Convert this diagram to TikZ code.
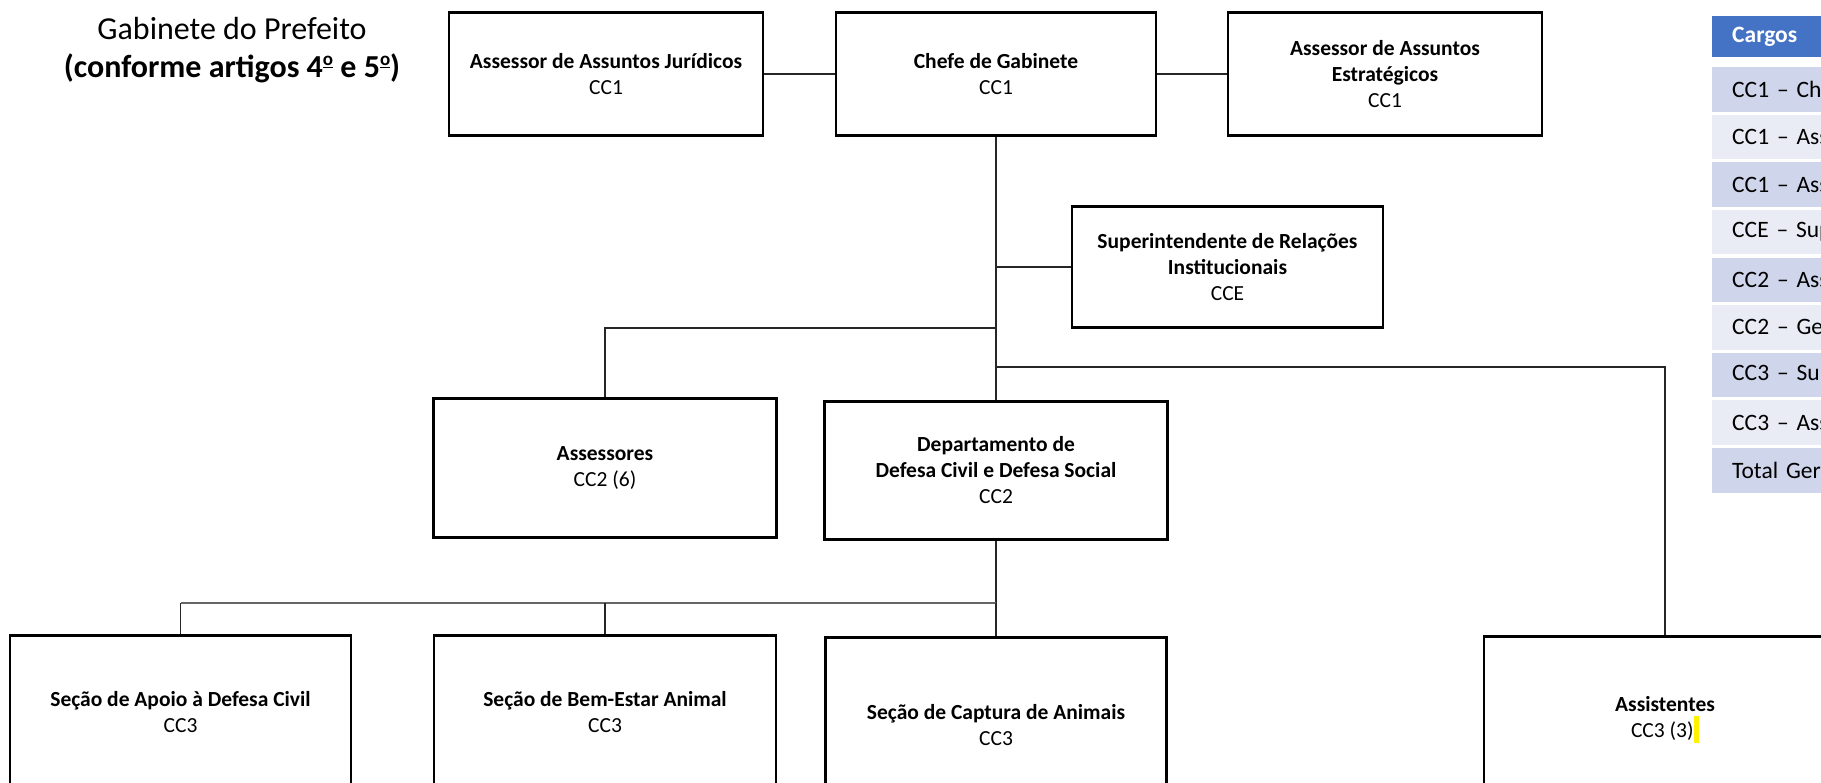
\documentclass[tikz,border=0pt]{standalone}
\usepackage{fontspec}
\setmainfont{Carlito}
\newfontfamily\tabfam[WordSpace=0.6]{Carlito}
\usetikzlibrary{calc}
\definecolor{hdrblue}{HTML}{4472C4}
\definecolor{rowdark}{HTML}{CFD5EA}
\definecolor{rowlight}{HTML}{E9EBF5}
\newcommand{\boxfont}{\fontsize{21.5}{26}\selectfont}
\newcommand{\tabfont}{\tabfam\fontsize{23.5}{28}\selectfont}
\newcommand{\titlefont}{\fontsize{32}{38}\selectfont}
\newcommand{\myord}{\raisebox{0.36em}{\fontsize{19}{19}\selectfont\underline{o}}}
\begin{document}
\begin{tikzpicture}[x=1pt,y=-1pt,
  box/.style={draw=black, line width=2.8pt, align=center, inner sep=0pt, font=\boxfont, anchor=north},
  conn/.style={line width=1.3pt, black!85},
  hbar/.style={line width=2.2pt, black!60},
  cell/.style={anchor=north west, minimum width=260pt, minimum height=44.5pt, text width=220pt, align=left, inner xsep=18pt, inner ysep=0pt, font=\tabfont},
  hdr/.style={cell, fill=hdrblue, text=white, minimum height=41pt}]
\clip (0,0) rectangle (1821,783);
\fill[white] (0,0) rectangle (1821,783);
% title
\node[font=\titlefont, align=center] (title) at (232,50) {Gabinete do Prefeito\\\textbf{(conforme artigos 4\myord{} e 5\myord)}};
% top row
\node[box, minimum width=314pt, minimum height=123pt] (jur) at (606,11) {\textbf{Assessor de Assuntos Jurídicos}\\CC1};
\node[box, minimum width=320pt, minimum height=123pt] (chefe) at (996,11) {\textbf{Chefe de Gabinete}\\CC1};
\node[box, minimum width=314pt, minimum height=123pt] (estr) at (1385,11) {\textbf{Assessor de Assuntos}\\\textbf{Estratégicos}\\CC1};
\node[box, minimum width=311pt, minimum height=121pt] (sup) at (1227.5,205) {\textbf{Superintendente de Relações}\\\textbf{Institucionais}\\CCE};
% middle row
\node[box, minimum width=343pt, minimum height=139pt] (assr) at (605,397) {\textbf{Assessores}\\CC2 (6)};
\node[box, minimum width=343pt, minimum height=138pt] (dept) at (996,400) {\textbf{Departamento de}\\\textbf{Defesa Civil e Defesa Social}\\CC2};
% bottom row
\node[box, minimum width=341pt, minimum height=154pt] (apoio) at (180.5,634) {\textbf{Seção de Apoio à Defesa Civil}\\CC3};
\node[box, minimum width=342pt, minimum height=154pt] (bem) at (605,634) {\textbf{Seção de Bem-Estar Animal}\\CC3};
\node[box, minimum width=341pt, minimum height=176pt] (capt) at (996,636) {\textbf{Seção de Captura de Animais}\\CC3};
\node[box, minimum width=362pt, minimum height=167pt] (asst) at (1665,635) {\textbf{Assistentes}\\CC3 (3){\color{yellow}\rule[-0.23em]{0.25em}{1.25em}}};
% connectors
\draw[conn] (jur.east) -- (chefe.west);
\draw[conn] (chefe.east) -- (estr.west);
\draw[conn] (chefe.south) -- (dept.north);
\draw[conn] (sup.west) -- (sup.west -| chefe.south);
\coordinate (jA) at (chefe.south |- 0,328);
\coordinate (jB) at (chefe.south |- 0,367);
\draw[conn] (jA) -| (assr.north);
\draw[conn] (jB) -| (asst.north);
\coordinate (jC) at (dept.south |- 0,603);
\draw[conn] (dept.south) -- (jC);
\draw[hbar] (jC) -- (apoio.north |- jC);
\draw[conn] (apoio.north |- jC) -- (apoio.north);
\draw[conn] (bem.north |- jC) -- (bem.north);
\draw[conn] (jC) -- (capt.north);
% table
\node[hdr] (th) at (1712,16) {\textbf{Cargos}};
\node[cell, fill=rowdark]  (r1) at (1712,67)    {CC1 – Che};
\node[cell, fill=rowlight] (r2) at (1712,114.6) {CC1 – Ass};
\node[cell, fill=rowdark]  (r3) at (1712,162.2) {CC1 – Ass};
\node[cell, fill=rowlight] (r4) at (1712,209.8) {CCE – Sup};
\node[cell, fill=rowdark]  (r5) at (1712,257.4) {CC2 – Ass};
\node[cell, fill=rowlight] (r6) at (1712,305)   {CC2 – Ger};
\node[cell, fill=rowdark]  (r7) at (1712,352.6) {CC3 – Sup};
\node[cell, fill=rowlight] (r8) at (1712,400.2) {CC3 – Ass};
\node[cell, fill=rowdark]  (r9) at (1712,447.8) {Total Ger};
\end{tikzpicture}
\end{document}
